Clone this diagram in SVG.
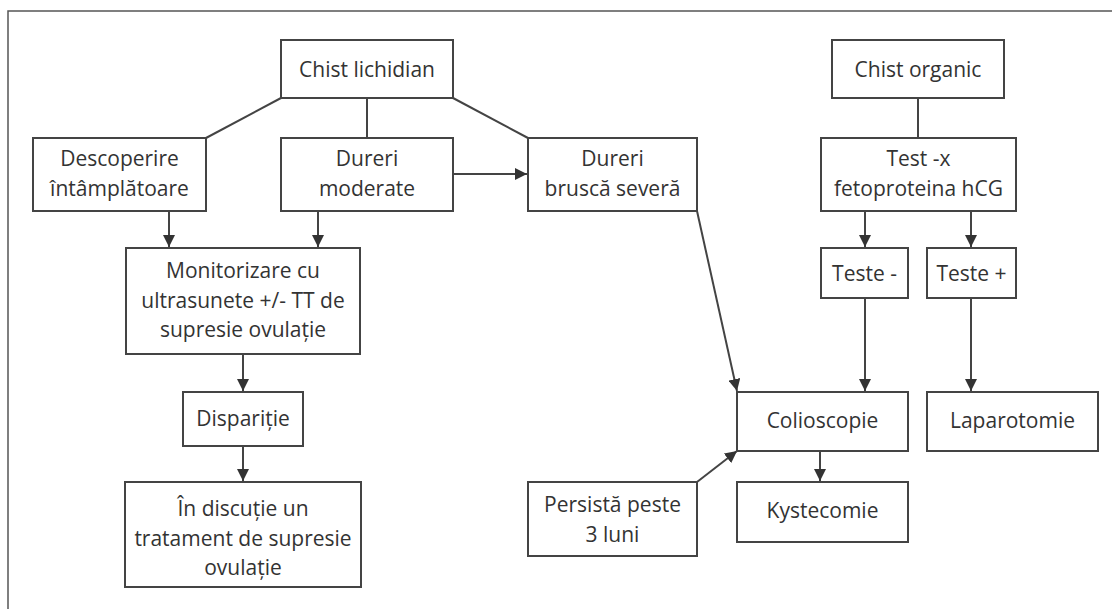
<svg xmlns="http://www.w3.org/2000/svg" width="1112" height="609" viewBox="0 0 1112 609">
<style>
.b{fill:#fff;stroke:#444;stroke-width:2}
.t{font-family:"Open Sans","Noto Sans",sans-serif;font-size:21px;fill:#333;text-anchor:middle}
.c{fill:none;stroke:#444;stroke-width:2}
</style>
<defs>
<marker id="a" markerUnits="userSpaceOnUse" markerWidth="12" markerHeight="12" viewBox="0 0 12 12" refX="12" refY="6" orient="auto">
<path d="M0,0 L12,6 L0,12 Z" fill="#333"/>
</marker>
</defs>
<rect width="1112" height="609" fill="#fff"/>
<path d="M8,609 V11 H1112" fill="none" stroke="#555" stroke-width="1.5"/>
<g id="connectors">
<path class="c" d="M281,98 L206,138"/>
<path class="c" d="M367,98 V138"/>
<path class="c" d="M453,98 L528,138"/>
<path class="c" d="M918,98 V138"/>
<path class="c" d="M453,174 H527" marker-end="url(#a)"/>
<path class="c" d="M169,211 V247" marker-end="url(#a)"/>
<path class="c" d="M318,211 V247" marker-end="url(#a)"/>
<path class="c" d="M243,354 V391" marker-end="url(#a)"/>
<path class="c" d="M243,446 V481" marker-end="url(#a)"/>
<path class="c" d="M865,211 V247" marker-end="url(#a)"/>
<path class="c" d="M971,211 V247" marker-end="url(#a)"/>
<path class="c" d="M865,298 V391" marker-end="url(#a)"/>
<path class="c" d="M971,298 V391" marker-end="url(#a)"/>
<path class="c" d="M697,211 L737,391" marker-end="url(#a)"/>
<path class="c" d="M697,482 L737,451" marker-end="url(#a)"/>
<path class="c" d="M820,451 V481" marker-end="url(#a)"/>
</g>
<g id="chist-lichidian"><rect class="b" x="281" y="40" width="172" height="58"/><text class="t" x="367" y="77">Chist lichidian</text></g>
<g id="descoperire"><rect class="b" x="33" y="138" width="173" height="73"/><text class="t" x="119.5" y="166">Descoperire</text><text class="t" x="119.5" y="196">întâmplătoare</text></g>
<g id="dureri-moderate"><rect class="b" x="281" y="138" width="172" height="73"/><text class="t" x="367" y="166">Dureri</text><text class="t" x="367" y="196">moderate</text></g>
<g id="dureri-brusca"><rect class="b" x="528" y="138" width="169" height="73"/><text class="t" x="612.5" y="166">Dureri</text><text class="t" x="612.5" y="196">bruscă severă</text></g>
<g id="chist-organic"><rect class="b" x="832" y="40" width="172" height="58"/><text class="t" x="918" y="77">Chist organic</text></g>
<g id="test"><rect class="b" x="821" y="138" width="195" height="73"/><text class="t" x="918.5" y="166">Test -x</text><text class="t" x="918.5" y="196">fetoproteina hCG</text></g>
<g id="teste-minus"><rect class="b" x="821" y="248" width="87" height="50"/><text class="t" x="864.5" y="281">Teste -</text></g>
<g id="teste-plus"><rect class="b" x="927" y="248" width="89" height="50"/><text class="t" x="971.5" y="281">Teste +</text></g>
<g id="monitorizare"><rect class="b" x="126" y="248" width="234" height="106"/><text class="t" x="243" y="278">Monitorizare cu</text><text class="t" x="243" y="308">ultrasunete +/- TT de</text><text class="t" x="243" y="337">supresie ovulație</text></g>
<g id="disparitie"><rect class="b" x="183" y="392" width="120" height="54"/><text class="t" x="243" y="426">Dispariție</text></g>
<g id="in-discutie"><rect class="b" x="125" y="482" width="236" height="105"/><text class="t" x="243" y="516">În discuție un</text><text class="t" x="243" y="546">tratament de supresie</text><text class="t" x="243" y="575">ovulație</text></g>
<g id="colioscopie"><rect class="b" x="737" y="392" width="171" height="59"/><text class="t" x="822.5" y="428">Colioscopie</text></g>
<g id="laparotomie"><rect class="b" x="927" y="392" width="171" height="59"/><text class="t" x="1012.5" y="428">Laparotomie</text></g>
<g id="kystecomie"><rect class="b" x="737" y="482" width="171" height="60"/><text class="t" x="822.5" y="518">Kystecomie</text></g>
<g id="persista"><rect class="b" x="528" y="482" width="169" height="74"/><text class="t" x="612.5" y="512">Persistă peste</text><text class="t" x="612.5" y="542">3 luni</text></g>
</svg>
